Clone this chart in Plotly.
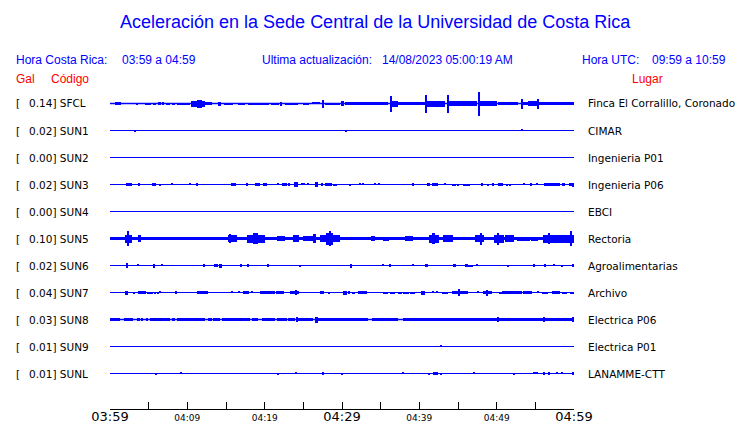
import plotly.graph_objects as go

# ---------------- data ----------------
STATIONS = ["SFCL", "SUN1", "SUN2", "SUN3", "SUN4", "SUN5", "SUN6", "SUN7", "SUN8", "SUN9", "SUNL"]
PEAK_GAL = [0.14, 0.02, 0.00, 0.02, 0.00, 0.10, 0.02, 0.04, 0.03, 0.01, 0.01]
PLACES = ["Finca El Corralillo, Coronado", "CIMAR", "Ingenieria P01", "Ingenieria P06", "EBCI",
          "Rectoria", "Agroalimentarias", "Archivo", "Electrica P06", "Electrica P01", "LANAMME-CTT"]

# minutes after 03:59 local time
TICK_MINUTES = [0, 5, 10, 15, 20, 25, 30, 35, 40, 45, 50, 55, 60]
MAJOR_TICKS = [0, 30, 60]
MAJOR_LABELS = ["03:59", "04:29", "04:59"]
MINOR_TICKS = [10, 20, 40, 50]
MINOR_LABELS = ["04:09", "04:19", "04:39", "04:49"]

# envelope bursts per station: (start minute, end minute, half-amplitude)
SFCL_BURSTS = [(0.65, 1.42, 1.7), (3.5, 3.6, 1.0), (4.5, 5.3, 1.0), (5.6, 6.0, 1.0), (6.25, 6.6, 1.3),
               (6.8, 7.0, 1.7), (7.3, 7.8, 1.0), (8.0, 8.4, 1.0), (8.6, 10.3, 1.0), (10.5, 12.3, 3.0),
               (11.3, 11.9, 4.0), (12.3, 13.2, 1.3), (14.0, 14.4, 2.0), (14.7, 15.9, 1.0), (16.6, 17.5, 1.0),
               (17.9, 20.5, 1.0), (20.8, 21.8, 1.0), (22.1, 22.3, 2.0), (22.6, 24.3, 1.0), (25.0, 25.7, 1.0),
               (26.1, 27.2, 0.8), (27.5, 27.7, 4.0), (27.8, 29.7, 1.0), (29.9, 30.2, 2.5), (30.4, 36.0, 1.2),
               (36.3, 36.45, 8.0), (36.45, 37.2, 3.0), (37.2, 40.7, 1.6), (40.75, 40.9, 9.0), (40.95, 43.3, 3.0),
               (43.6, 43.75, 9.0), (43.75, 46.3, 2.7), (46.3, 47.5, 2.2), (47.6, 47.75, 12.0), (47.75, 50.0, 2.7),
               (50.2, 52.8, 1.2), (53.2, 53.35, 5.0), (53.4, 54.0, 1.5), (54.1, 55.2, 2.2), (55.3, 55.45, 5.0),
               (55.45, 60.0, 1.5)]
SUN1_BURSTS = [(3.2, 3.3, 1.0), (30.5, 30.6, 1.0), (53.2, 53.3, 0.8)]
SUN2_BURSTS = []
SUN3_BURSTS = [(2.03, 2.80, 1.3), (3.58, 3.84, 1.3), (5.39, 5.91, 1.3), (6.42, 6.52, 1.0), (7.92, 8.02, 0.7),
               (10.3, 10.4, 0.7), (11.16, 11.26, 1.3), (15.65, 15.82, 1.3), (16.03, 16.25, 1.3), (17.59, 17.8, 1.3),
               (18.75, 19.4, 1.3), (19.74, 20.34, 1.3), (21.63, 21.73, 0.7), (22.2, 22.84, 1.3), (23.06, 23.28, 1.3),
               (23.79, 24.27, 2.3), (24.73, 24.83, 0.7), (25.08, 25.18, 0.7), (25.6, 25.7, 0.7), (26.51, 26.85, 2.3),
               (27.37, 27.59, 1.3), (27.8, 28.66, 1.3), (28.88, 29.31, 1.0), (30.98, 31.08, 1.0), (32.28, 32.38, 0.7),
               (32.71, 32.81, 0.7), (34.22, 34.32, 0.7), (34.73, 34.83, 0.7), (39.01, 39.31, 1.3), (40.95, 41.38, 1.3),
               (41.59, 42.46, 1.3), (43.27, 43.37, 0.7), (44.26, 44.36, 1.0), (44.56, 44.66, 1.0), (44.91, 45.01, 1.0),
               (45.69, 46.55, 1.0), (47.97, 48.28, 1.3), (48.79, 48.89, 1.0), (49.44, 49.61, 1.3), (50.22, 50.86, 1.3),
               (51.24, 51.34, 1.0), (51.67, 51.77, 1.0), (53.53, 53.63, 0.7), (54.31, 54.53, 1.3), (55.12, 55.22, 0.7),
               (56.16, 58.19, 1.3), (58.49, 58.84, 1.3), (59.4, 59.78, 1.3), (59.85, 59.97, 2.0)]
SUN4_BURSTS = []
SUN5_BURSTS = [(0.2, 0.9, 1.3), (1.3, 1.5, 1.3), (2.0, 2.8, 4.0), (2.2, 2.5, 7.3), (3.6, 4.0, 3.3),
               (5.8, 6.1, 1.7), (6.5, 6.8, 1.7), (7.0, 7.3, 1.7), (7.8, 8.4, 1.0), (8.6, 9.7, 1.7),
               (10.3, 10.6, 1.7), (11.0, 11.3, 1.7), (11.4, 11.8, 1.7), (15.3, 16.4, 3.3), (15.4, 15.7, 4.7),
               (17.7, 20.0, 4.0), (18.5, 19.2, 5.7), (20.3, 20.7, 1.7), (21.6, 22.6, 2.7), (23.7, 24.4, 3.3),
               (25.0, 26.3, 2.7), (26.3, 26.7, 4.7), (27.2, 29.7, 3.3), (27.9, 28.9, 6.0), (28.4, 28.5, 7.3),
               (33.8, 34.3, 2.7), (35.3, 36.1, 2.0), (38.2, 39.2, 2.7), (41.2, 42.5, 4.0), (41.6, 42.0, 5.3),
               (43.1, 44.4, 3.3), (47.2, 48.3, 3.3), (47.9, 48.0, 6.0), (49.6, 50.9, 4.0), (50.1, 50.3, 6.0),
               (51.1, 52.2, 3.3), (52.6, 54.3, 2.0), (54.5, 55.4, 2.0), (56.0, 60.0, 4.0), (56.6, 56.9, 5.3),
               (59.5, 59.7, 7.3)]
SUN6_BURSTS = [(2.03, 2.37, 2.0), (2.12, 2.22, 2.3), (3.61, 3.71, 0.7), (5.6, 5.82, 2.0), (6.72, 6.82, 0.7),
               (12.07, 12.28, 1.3), (13.45, 14.01, 1.3), (14.14, 14.53, 2.0), (16.81, 17.03, 1.3), (17.76, 17.93, 1.3),
               (20.34, 20.52, 1.3), (24.56, 24.66, 1.0), (31.08, 31.25, 2.0), (35.29, 35.39, 0.7), (36.08, 36.29, 1.3),
               (39.17, 39.27, 0.7), (40.86, 41.08, 1.3), (44.4, 44.7, 1.3), (45.91, 46.25, 1.3), (46.42, 46.64, 1.0),
               (46.77, 46.94, 1.0), (47.45, 47.55, 0.7), (51.37, 51.47, 1.0), (54.7, 54.96, 1.3), (56.16, 56.34, 1.3),
               (57.41, 57.51, 0.7), (58.32, 58.49, 1.0), (59.78, 60.0, 1.3)]
SUN7_BURSTS = [(1.94, 2.28, 2.0), (3.02, 3.23, 1.0), (3.58, 4.61, 1.3), (4.82, 4.92, 1.0), (5.12, 5.22, 1.0),
               (5.42, 5.52, 1.0), (5.77, 5.87, 1.0), (6.15, 6.25, 1.0), (6.42, 6.52, 0.7), (8.41, 8.71, 1.3),
               (11.21, 12.63, 1.3), (15.68, 15.78, 0.7), (16.67, 16.77, 0.7), (17.24, 17.97, 1.2), (18.27, 18.37, 0.7),
               (19.4, 21.34, 1.3), (21.47, 22.5, 1.3), (23.28, 24.44, 1.7), (24.05, 24.2, 2.3), (27.16, 27.72, 1.3),
               (28.23, 28.45, 1.0), (30.09, 30.6, 2.0), (30.73, 31.03, 1.3), (31.25, 31.68, 1.0), (32.03, 33.19, 1.3),
               (35.34, 35.99, 1.0), (36.21, 36.85, 1.0), (37.2, 37.72, 1.0), (37.93, 38.66, 1.0), (38.79, 39.44, 1.0),
               (40.22, 40.73, 2.0), (41.76, 41.86, 0.7), (42.19, 42.29, 0.7), (42.89, 43.75, 1.0), (44.18, 45.26, 1.7),
               (45.1, 45.22, 3.7), (45.26, 46.34, 1.3), (47.58, 47.68, 0.7), (48.28, 49.35, 1.7), (48.65, 48.78, 3.0),
               (50.34, 50.65, 1.0), (50.65, 53.23, 1.3), (53.45, 54.53, 1.3), (55.25, 55.35, 0.7), (55.82, 56.68, 1.0),
               (57.2, 58.19, 1.3), (58.41, 59.05, 1.0), (59.48, 60.0, 1.0)]
SUN8_BURSTS = [(0.0, 1.29, 1.3), (1.85, 3.02, 1.3), (3.45, 3.88, 1.3), (4.09, 4.31, 1.3), (4.74, 4.96, 1.3),
               (5.17, 7.76, 1.3), (7.97, 8.41, 1.3), (8.62, 12.28, 1.3), (12.72, 13.15, 1.3), (13.36, 14.22, 1.3),
               (14.44, 18.1, 1.3), (18.32, 19.18, 1.3), (19.61, 21.34, 1.3), (21.55, 22.84, 1.3), (22.97, 23.92, 1.3),
               (24.07, 24.2, 2.3), (24.35, 26.29, 1.3), (26.51, 26.94, 3.0), (26.94, 33.41, 1.3), (33.84, 37.28, 1.3),
               (37.93, 60.0, 1.5), (50.17, 50.27, 2.5), (56.11, 56.21, 2.5), (59.85, 60.0, 2.3)]
SUN9_BURSTS = [(42.75, 42.85, 0.8)]
SUNL_BURSTS = [(5.9, 6.0, 1.0), (9.09, 9.19, 0.7), (21.72, 21.82, 1.0), (23.96, 24.06, 0.7), (27.46, 27.63, 1.7),
               (29.99, 30.09, 1.0), (37.88, 37.98, 0.7), (41.2, 41.3, 1.0), (41.81, 42.37, 1.7), (42.75, 42.85, 1.0),
               (47.02, 47.12, 0.7), (52.19, 52.29, 1.0), (54.74, 55.39, 0.7), (56.03, 56.25, 1.7), (56.68, 56.9, 1.3),
               (57.71, 57.81, 0.7), (58.44, 58.54, 0.7), (59.78, 60.0, 1.3)]

BURSTS = [SFCL_BURSTS, SUN1_BURSTS, SUN2_BURSTS, SUN3_BURSTS, SUN4_BURSTS, SUN5_BURSTS,
          SUN6_BURSTS, SUN7_BURSTS, SUN8_BURSTS, SUN9_BURSTS, SUNL_BURSTS]

# ---------------- layout constants ----------------
W, H = 740, 423
ML, MR, MT, MB = 110, 166, 80, 14
PW, PH = W - ML - MR, H - MT - MB
ROW_PX = 27.0
FIRST_ROW_PX = 103.5
AMP_SCALE = 1.0 / ROW_PX
BASE_WIDTH = [1.5, 1, 1, 1, 1, 3.0, 1, 1, 1.5, 1, 1]
BLUE = "#0000ff"
RED = "#ff0000"
SANS = "Liberation Sans, Arial, sans-serif"
DEJAVU = "DejaVu Sans, sans-serif"


def px_x(px):
    return (px - ML) / PW


def px_y(py):
    return (H - MB - py) / PH


fig = go.Figure()

for i, (name, bursts) in enumerate(zip(STATIONS, BURSTS)):
    fig.add_trace(go.Scatter(x=[TICK_MINUTES[0], TICK_MINUTES[-1]], y=[i, i], mode="lines",
                             line=dict(color=BLUE, width=BASE_WIDTH[i]), hoverinfo="skip", showlegend=False))
    if bursts:
        xs = [(s + e) / 2 for s, e, a in bursts]
        ws = [max(e - s, 0.13) for s, e, a in bursts]
        bases = [i - a * AMP_SCALE for s, e, a in bursts]
        hs = [2 * a * AMP_SCALE for s, e, a in bursts]
        fig.add_trace(go.Bar(x=xs, y=hs, base=bases, width=ws, marker=dict(color=BLUE, line=dict(width=0)),
                             hoverinfo="skip", showlegend=False, name=name))

top = -(FIRST_ROW_PX - MT) / ROW_PX
bottom = (H - MB - FIRST_ROW_PX) / ROW_PX

tick_text = []
for t in TICK_MINUTES:
    if t in MAJOR_TICKS:
        tick_text.append("<span style='font-size:13px'>" + MAJOR_LABELS[MAJOR_TICKS.index(t)] + "</span>")
    elif t in MINOR_TICKS:
        tick_text.append(MINOR_LABELS[MINOR_TICKS.index(t)])
    else:
        tick_text.append("")

fig.update_layout(
    width=W, height=H, margin=dict(l=ML, r=MR, t=MT, b=MB, autoexpand=False),
    paper_bgcolor="white", plot_bgcolor="white", barmode="overlay", bargap=0,
    xaxis=dict(range=[0, 60], tickvals=TICK_MINUTES, ticktext=tick_text, ticks="inside", ticklen=7,
               tickcolor="black", tickwidth=1, showline=True, linecolor="black", linewidth=1,
               showgrid=False, zeroline=False, tickfont=dict(family=DEJAVU, size=9, color="black"),
               fixedrange=True),
    yaxis=dict(range=[bottom, top], visible=False, fixedrange=True),
)

ann = []


def add_text(text, px, py, color, size, family, xanchor="left"):
    ann.append(dict(text=text, x=px_x(px), y=px_y(py), xref="paper", yref="paper", showarrow=False,
                    xanchor=xanchor, yanchor="middle", font=dict(color=color, size=size, family=family)))


add_text("Aceleración en la Sede Central de la Universidad de Costa Rica", 375, 22, BLUE, 18, SANS, "center")
add_text("Hora Costa Rica:", 14, 60, BLUE, 12, SANS)
add_text("03:59 a 04:59", 120, 60, BLUE, 12, SANS)
add_text("Ultima actualización:", 260, 60, BLUE, 12, SANS)
add_text("14/08/2023 05:00:19 AM", 380, 60, BLUE, 12, SANS)
add_text("Hora UTC:", 580, 60, BLUE, 12, SANS)
add_text("09:59 a 10:59", 650, 60, BLUE, 12, SANS)
add_text("Gal", 14, 79, RED, 12, SANS)
add_text("Código", 49, 79, RED, 12, SANS)
add_text("Lugar", 630, 79, RED, 12, SANS)

for i, (name, gal, place) in enumerate(zip(STATIONS, PEAK_GAL, PLACES)):
    py = FIRST_ROW_PX + i * ROW_PX
    add_text("[", 14, py, "black", 10.5, DEJAVU)
    add_text(f"{gal:.2f}] {name}", 27, py, "black", 10.5, DEJAVU)
    add_text(place, 586, py, "black", 10.5, DEJAVU)

fig.update_layout(annotations=ann)
fig.write_html("out.html", config={"displayModeBar": False},
               post_script="document.body.style.margin='0';")
